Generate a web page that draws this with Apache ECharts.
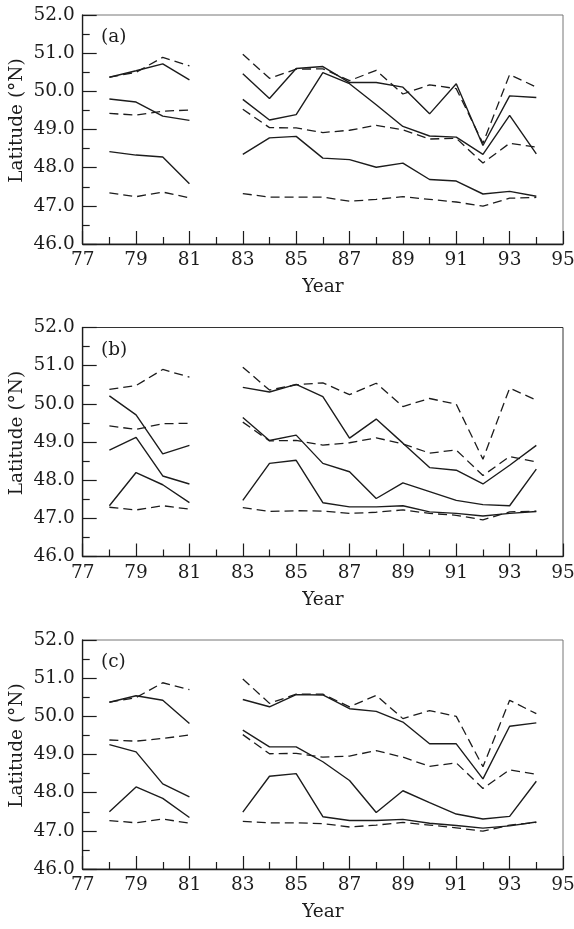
<!DOCTYPE html>
<html>
<head>
<meta charset="utf-8" />
<script src="https://cdn.jsdelivr.net/npm/echarts@6/dist/echarts.min.js"></script>
<style>
  html, body { margin: 0; padding: 0; background: #fff; }
  #chart { width: 574px; height: 929px; }
</style>
</head>
<body>
<div id="chart"></div>
<script>
const years = [78, 79, 80, 81, 82, 83, 84, 85, 86, 87, 88, 89, 90, 91, 92, 93, 94];
const xTickLabels = [77, 79, 81, 83, 85, 87, 89, 91, 93, 95];
const xMinorTicks = [78, 80, 82, 84, 86, 88, 90, 92, 94];
const yTickLabels = [46, 47, 48, 49, 50, 51, 52];
const panelLabels = ["(a)", "(b)", "(c)"];

// panel (a)
const aSolidTop = [50.37, 50.54, 50.72, 50.30, null, 50.46, 49.81, 50.6, 50.65, 50.23, 50.23, 50.11, 49.41, 50.2, 48.58, 49.88, 49.84];
const aSolidMid = [49.8, 49.72, 49.35, 49.24, null, 49.79, 49.25, 49.39, 50.49, 50.2, 49.65, 49.08, 48.83, 48.8, 48.35, 49.37, 48.36];
const aSolidLow = [48.42, 48.33, 48.28, 47.58, null, 48.35, 48.78, 48.82, 48.25, 48.21, 48.01, 48.12, 47.69, 47.65, 47.31, 47.38, 47.25];
const aDashTop = [50.37, 50.5, 50.89, 50.67, null, 50.97, 50.34, 50.58, 50.59, 50.28, 50.55, 49.93, 50.17, 50.07, 48.64, 50.44, 50.11];
const aDashMid = [49.42, 49.38, 49.48, 49.51, null, 49.53, 49.05, 49.04, 48.92, 48.98, 49.11, 48.99, 48.75, 48.77, 48.12, 48.64, 48.54];
const aDashLow = [47.34, 47.24, 47.36, 47.21, null, 47.32, 47.23, 47.23, 47.23, 47.12, 47.17, 47.24, 47.17, 47.1, 46.99, 47.2, 47.22];

// panel (b)
const bSolidTop = [50.21, 49.71, 48.69, 48.91, null, 50.43, 50.31, 50.51, 50.19, 49.1, 49.6, 48.97, 48.33, 48.26, 47.9, 48.39, 48.91];
const bSolidMid = [48.79, 49.12, 48.11, 47.9, null, 49.64, 49.04, 49.18, 48.44, 48.22, 47.52, 47.93, 47.7, 47.47, 47.36, 47.33, 48.29];
const bSolidLow = [47.33, 48.2, 47.88, 47.41, null, 47.47, 48.44, 48.52, 47.41, 47.3, 47.3, 47.33, 47.17, 47.13, 47.06, 47.13, 47.18];
const bDashTop = [50.38, 50.48, 50.9, 50.7, null, 50.96, 50.36, 50.5, 50.55, 50.24, 50.54, 49.93, 50.14, 49.99, 48.55, 50.41, 50.1];
const bDashMid = [49.42, 49.33, 49.48, 49.49, null, 49.52, 49.03, 49.04, 48.92, 48.98, 49.11, 48.95, 48.71, 48.79, 48.12, 48.62, 48.48];
const bDashLow = [47.29, 47.22, 47.33, 47.24, null, 47.28, 47.18, 47.2, 47.19, 47.13, 47.16, 47.22, 47.13, 47.08, 46.96, 47.17, 47.19];

// panel (c)
const cSolidTop = [50.37, 50.54, 50.42, 49.81, null, 50.44, 50.25, 50.57, 50.56, 50.2, 50.13, 49.85, 49.28, 49.28, 48.36, 49.74, 49.83];
const cSolidMid = [49.26, 49.07, 48.23, 47.89, null, 49.64, 49.2, 49.2, 48.81, 48.32, 47.48, 48.05, 47.74, 47.44, 47.31, 47.38, 48.3];
const cSolidLow = [47.5, 48.15, 47.85, 47.35, null, 47.49, 48.43, 48.5, 47.37, 47.27, 47.27, 47.3, 47.2, 47.14, 47.07, 47.13, 47.23];
const cDashTop = [50.37, 50.49, 50.88, 50.7, null, 50.98, 50.34, 50.58, 50.58, 50.25, 50.55, 49.94, 50.15, 50.0, 48.68, 50.42, 50.07];
const cDashMid = [49.38, 49.35, 49.42, 49.51, null, 49.52, 49.02, 49.03, 48.93, 48.96, 49.1, 48.93, 48.69, 48.78, 48.11, 48.6, 48.48];
const cDashLow = [47.27, 47.21, 47.31, 47.2, null, 47.25, 47.21, 47.21, 47.19, 47.1, 47.15, 47.22, 47.15, 47.08, 46.99, 47.15, 47.22];

const panels = [
  { solid: [aSolidTop, aSolidMid, aSolidLow], dashed: [aDashTop, aDashMid, aDashLow] },
  { solid: [bSolidTop, bSolidMid, bSolidLow], dashed: [bDashTop, bDashMid, bDashLow] },
  { solid: [cSolidTop, cSolidMid, cSolidLow], dashed: [cDashTop, cDashMid, cDashLow] },
];

const FONT = "DejaVu Serif";
const FONT_SIZE = 18.5;
const INK = "#1c1c1c";
const gridTops = [15, 327.5, 640];
const gridHeight = 229;

const chart = echarts.init(document.getElementById("chart"), null, { renderer: "canvas" });

const grid = [];
const xAxis = [];
const yAxis = [];
const series = [];
const title = [];

gridTops.forEach((top, i) => {
  grid.push({
    left: 82.7,
    right: 11,
    top: top,
    height: gridHeight,
    outerBoundsMode: "none",
    containLabel: false,
    show: true,
    borderColor: i === 1 ? "#333" : "#777",
    borderWidth: 1,
  });
  title.push({
    text: panelLabels[i],
    left: 96,
    top: top + 8,
    textStyle: { fontFamily: FONT, fontSize: FONT_SIZE, fontWeight: "normal", color: INK },
  });
  // odd years: long ticks + labels
  xAxis.push({
    type: "value",
    gridIndex: i,
    min: 77,
    max: 95,
    name: "Year",
    nameLocation: "middle",
    nameGap: 34,
    nameTextStyle: { fontFamily: FONT, fontSize: FONT_SIZE, color: INK },
    axisLine: { show: true, lineStyle: { color: INK, width: 1.3 } },
    axisTick: { show: true, inside: true, length: 13, customValues: xTickLabels, lineStyle: { color: INK, width: 1.2 } },
    axisLabel: {
      customValues: xTickLabels,
      fontFamily: FONT,
      fontSize: FONT_SIZE,
      color: INK,
      margin: 7,
    },
    splitLine: { show: false },
  });
  // even years: short ticks only
  xAxis.push({
    type: "value",
    gridIndex: i,
    min: 77,
    max: 95,
    position: "bottom",
    axisLine: { show: false },
    axisTick: { show: true, inside: true, length: 7, customValues: xMinorTicks, lineStyle: { color: INK, width: 1.2 } },
    axisLabel: { show: false },
    splitLine: { show: false },
  });
  yAxis.push({
    type: "value",
    gridIndex: i,
    min: yTickLabels[0],
    max: yTickLabels[yTickLabels.length - 1],
    interval: 1,
    name: "Latitude (°N)",
    nameLocation: "middle",
    nameGap: 56,
    nameMoveOverlap: false,
    nameTextStyle: { fontFamily: FONT, fontSize: FONT_SIZE, color: INK, padding: [0, 0, 0, 18] },
    axisLine: { show: true, lineStyle: { color: INK, width: 1.3 } },
    axisTick: { show: true, inside: true, length: 14, lineStyle: { color: INK, width: 1.2 } },
    minorTick: { show: true, splitNumber: 2, length: 7, lineStyle: { color: INK, width: 1.2 } },
    axisLabel: {
      fontFamily: FONT,
      fontSize: FONT_SIZE,
      color: INK,
      margin: 8,
      formatter: (v) => v.toFixed(1),
    },
    splitLine: { show: false },
  });

  const p = panels[i];
  p.solid.forEach((vals) => {
    series.push({
      type: "line",
      xAxisIndex: i * 2,
      yAxisIndex: i,
      data: years.map((y, k) => [y, vals[k]]),
      connectNulls: false,
      showSymbol: false,
      symbol: "none",
      silent: true,
      lineStyle: { color: INK, width: 1.4, type: "solid" },
    });
  });
  p.dashed.forEach((vals) => {
    series.push({
      type: "line",
      xAxisIndex: i * 2,
      yAxisIndex: i,
      data: years.map((y, k) => [y, vals[k]]),
      connectNulls: false,
      showSymbol: false,
      symbol: "none",
      silent: true,
      lineStyle: { color: INK, width: 1.3, type: [9, 5] },
    });
  });
});

chart.setOption({
  animation: false,
  backgroundColor: "#fff",
  title,
  grid,
  xAxis,
  yAxis,
  series,
});
</script>
</body>
</html>
